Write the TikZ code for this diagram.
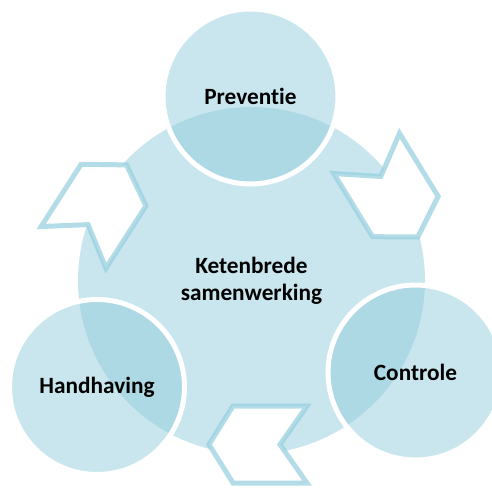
\documentclass[tikz,border=0pt]{standalone}
\usepackage{fontspec}
\setmainfont{Carlito}[Ligatures={NoCommon}]
\definecolor{basecol}{RGB}{147,206,222}
\definecolor{centercol}{RGB}{201,230,238}
\definecolor{chevcol}{RGB}{147,206,222}
\begin{document}
\begin{tikzpicture}[x=1pt,y=-1pt,
  label text/.style={font=\fontsize{23.3}{27}\selectfont\bfseries, text=black, align=center},
  hub/.style={circle, fill=centercol, minimum size=347pt, inner sep=0pt},
  sat/.style={circle, fill=basecol, fill opacity=0.5, draw=white, draw opacity=1, line width=5pt, minimum size=175pt, inner sep=0pt, text opacity=1},
  chev/.style={fill=white, draw=chevcol, draw opacity=0.7, line width=5pt, line join=miter}
]
\useasboundingbox (0,0) rectangle (492,487);
\node[hub] (hub) at (251.5,280.5) {};
\node[sat] (prev) at (250.5,96.5) {};
\node[sat] (ctrl) at (415.5,372.5) {};
\node[sat] (hand) at (97,387) {};
% chevrons
\draw[chev, shift={(386,185)}, rotate=-58.5] (-37,-38.5) -- (37,-38.5) -- (61,0) -- (37,38.5) -- (-37,38.5) -- (-10,0) -- cycle;
\draw[chev, shift={(270,444.5)}, rotate=180] (-37,-38.5) -- (37,-38.5) -- (61,0) -- (37,38.5) -- (-37,38.5) -- (-10,0) -- cycle;
\draw[chev, shift={(93.5,216.2)}, rotate=57.3] (-37,-38.5) -- (37,-38.5) -- (61,0) -- (37,38.5) -- (-37,38.5) -- (-10,0) -- cycle;
% labels
\node[label text] (t0) at (hub.center) {Ketenbrede\\samenwerking};
\node[label text] (t1) at (prev.center) {Preventie};
\node[label text] (t2) at (ctrl.center) {Controle};
\node[label text] (t3) at (hand.center) {Handhaving};
\end{tikzpicture}
\end{document}
